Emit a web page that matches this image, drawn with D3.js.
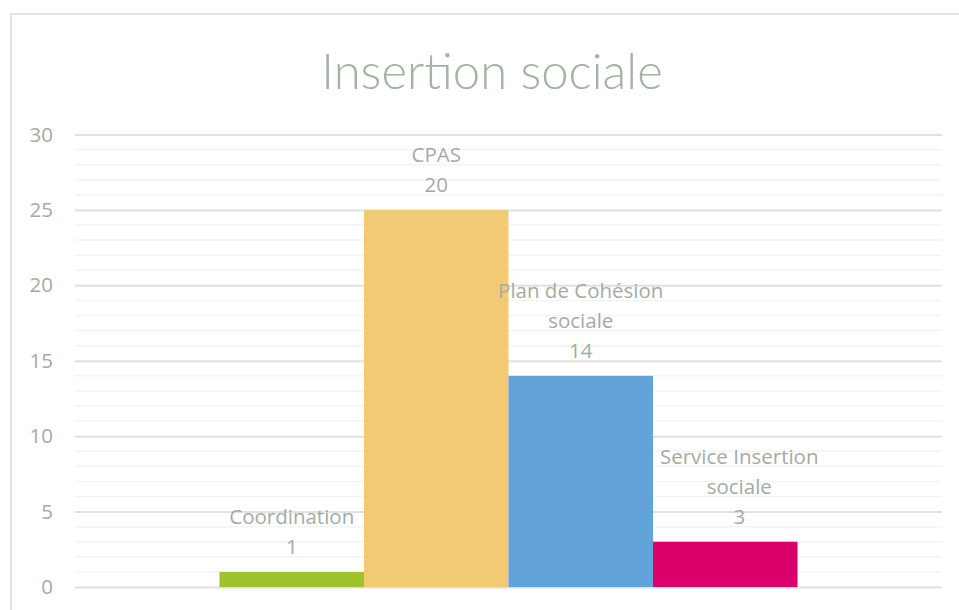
<!DOCTYPE html>
<html><head><meta charset="utf-8">
<script src="https://cdn.jsdelivr.net/npm/d3@7"></script>
<style>body{margin:0;background:#fff;}svg{display:block;}</style>
</head><body>
<script>
const categories = ["Coordination", "CPAS", "Plan de Cohésion sociale", "Service Insertion sociale"];
const labelLines = [["Coordination"], ["CPAS"], ["Plan de Cohésion", "sociale"], ["Service Insertion", "sociale"]];
const values = [1, 25, 14, 3];
const valueLabels = ["1", "20", "14", "3"];
const colors = ["#9dc42a", "#f2ca76", "#62a4d9", "#dc006a"];
const yTicks = [0, 5, 10, 15, 20, 25, 30];
const title = "Insertion sociale";
const labelShift = [0, 0, 0, 14];

const W = 959, H = 610;
const svg = d3.select("body").append("svg").attr("width", W).attr("height", H);

svg.append("rect").attr("x", 11).attr("y", 14).attr("width", W).attr("height", H)
  .attr("fill", "#fff").attr("stroke", "#e4e4e4").attr("stroke-width", 2);

const m = {left: 75, right: 942, top: 134.5, bottom: 587};
const y = d3.scaleLinear().domain([0, 30]).range([m.bottom, m.top]);
const barW = (m.right - m.left) / 6;
const x = d3.scaleBand().domain(categories)
  .range([m.left + barW, m.right - barW]).padding(0);

const minor = d3.range(0, 31, 1).filter(v => v % 5 !== 0);
svg.append("g").selectAll("line").data(minor).join("line")
  .attr("x1", m.left).attr("x2", m.right)
  .attr("y1", d => y(d)).attr("y2", d => y(d))
  .attr("stroke", "#f3f3f3").attr("stroke-width", 1.5);

const yAxis = d3.axisLeft(y).tickValues(yTicks).tickSize(-(m.right - m.left)).tickPadding(22);
const ga = svg.append("g").attr("transform", `translate(${m.left},0)`).call(yAxis);
ga.select(".domain").remove();
ga.selectAll(".tick line").attr("stroke", "#e0e0e0").attr("stroke-width", 2);
ga.selectAll(".tick text").attr("fill", "#a3aca3")
  .style("font-family", "'Open Sans', Lato, sans-serif").style("font-size", "20.5px");

svg.append("g").selectAll("rect").data(categories).join("rect")
  .attr("x", d => x(d)).attr("width", x.bandwidth())
  .attr("y", (d, i) => y(values[i]))
  .attr("height", (d, i) => y(0) - y(values[i]))
  .attr("fill", (d, i) => colors[i]);

const lineH = 30;
const lbl = svg.append("g").selectAll("text").data(categories).join("text")
  .attr("text-anchor", "middle")
  .attr("fill", "#a3aca3")
  .style("font-family", "'Open Sans', Lato, sans-serif").style("font-size", "20.5px");
lbl.each(function(d, i) {
  const lines = labelLines[i].concat([valueLabels[i]]);
  const cx = x(d) + x.bandwidth() / 2 + labelShift[i];
  const baseY = y(values[i]) - 18 - (lines.length - 1) * lineH;
  const t = d3.select(this);
  lines.forEach((s, k) => {
    t.append("tspan").attr("x", cx).attr("y", baseY + k * lineH).text(s);
  });
});

svg.append("text").attr("x", 492).attr("y", 89).attr("text-anchor", "middle")
  .attr("fill", "#a0b4a0")
  .style("font-family", "Lato, 'Open Sans', sans-serif").style("font-weight", 300)
  .style("font-size", "49px").text(title);
</script>
</body></html>
